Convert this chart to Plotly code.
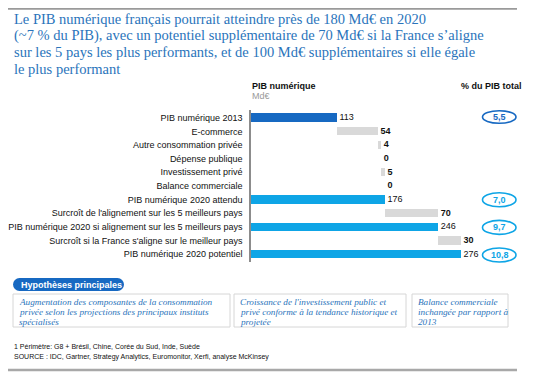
import plotly.graph_objects as go

# The page body has a default 8px margin; lay out in window pixels and offset.
OFF = 8
W, H = 543 - OFF, 392 - OFF

# ---------------- data ----------------
categories = [
    "PIB numérique 2013",
    "E-commerce",
    "Autre consommation privée",
    "Dépense publique",
    "Investissement privé",
    "Balance commerciale",
    "PIB numérique 2020 attendu",
    "Surcroît de l'alignement sur les 5 meilleurs pays",
    "PIB numérique 2020 si alignement sur les 5 meilleurs pays",
    "Surcroît si la France s'aligne sur le meilleur pays",
    "PIB numérique 2020 potentiel",
]
values = [113, 54, 4, 0, 5, 0, 176, 70, 246, 30, 276]
kinds = ["total", "delta", "delta", "delta", "delta", "delta",
         "total", "delta", "total", "delta", "total"]
pct_total = [5.5, None, None, None, None, None, 7.0, None, 9.7, None, 10.8]

title_lines = [
    "Le PIB numérique français pourrait atteindre près de 180 Md€ en 2020",
    "(~7 % du PIB), avec un potentiel supplémentaire de 70 Md€ si la France s’aligne",
    "sur les 5 pays les plus performants, et de 100 Md€ supplémentaires si elle égale",
    "le plus performant",
]
hypotheses = [
    ["Augmentation des composantes de la consommation",
     "privée selon les projections des principaux instituts",
     "spécialisés"],
    ["Croissance de l'investissement public et",
     "privé conforme à la tendance historique et",
     "projetée"],
    ["Balance commerciale",
     "inchangée par rapport à",
     "2013"],
]
footnotes = [
    "1 Périmètre: G8 + Brésil, Chine, Corée du Sud, Inde, Suède",
    "SOURCE : IDC, Gartner, Strategy Analytics, Euromonitor, Xerfi, analyse McKinsey",
]

# ---------------- styles ----------------
DARK = "#1769c2"
LIGHT = "#0ea5e6"
GREY = "#d9d9d9"
TITLE_C = "#2a74bb"
SANS = "Liberation Sans, Arial, sans-serif"
SERIF = "Liberation Serif, Georgia, serif"

def X(px):
    return (px - OFF) / W

def Y(py):
    return 1 - (py - OFF) / H

# waterfall bases
bases, running = [], 0
for v, k in zip(values, kinds):
    if k == "total":
        bases.append(0)
        running = v
    else:
        bases.append(running)
        running += v
ends = [b + v for b, v in zip(bases, values)]

colors = []
for i, k in enumerate(kinds):
    if k == "delta":
        colors.append(GREY)
    elif i == 0:
        colors.append(DARK)
    else:
        colors.append(LIGHT)

fig = go.Figure()
fig.add_trace(go.Bar(
    y=categories, x=values, base=bases, orientation="h",
    marker=dict(color=colors, line=dict(width=0)),
    width=0.62, hoverinfo="skip", showlegend=False,
))
labels = [("\u00a0<b>%d</b>" % v) if k == "delta" else ("\u00a0%d" % v)
          for v, k in zip(values, kinds)]
fig.add_trace(go.Scatter(
    y=categories, x=ends, mode="text", text=labels,
    textposition="middle right",
    textfont=dict(family=SANS, size=9, color="#111111"),
    hoverinfo="skip", showlegend=False, cliponaxis=False,
))

# geometry of plot rows (window pixels)
row_top, row_bot = 110.1, 261.9
x0_px, scale = 251.0, 0.761
fig.update_layout(
    width=W, height=H,
    margin=dict(l=0, r=0, t=0, b=0),
    paper_bgcolor="white", plot_bgcolor="white",
    bargap=0,
    xaxis=dict(domain=[X(x0_px), 1], range=[0, (543 - x0_px) / scale],
               visible=False, fixedrange=True),
    yaxis=dict(domain=[Y(row_bot), Y(row_top)], autorange="reversed",
               type="category", showline=True, linecolor="#8c8c8c",
               linewidth=1.5, showgrid=False, zeroline=False, ticks="",
               ticklabelstandoff=5,
               tickfont=dict(family=SANS, size=9, color="#111111"),
               fixedrange=True),
)

shapes, ann = [], []

# top and bottom separators
shapes.append(dict(type="line", xref="paper", yref="paper",
                   x0=X(OFF), x1=X(517), y0=Y(OFF + 0.8), y1=Y(OFF + 0.8),
                   line=dict(color="#9a9a9a", width=2)))
shapes.append(dict(type="line", xref="paper", yref="paper",
                   x0=X(OFF), x1=X(517), y0=Y(370), y1=Y(370),
                   line=dict(color="#a8a8a8", width=2.5)))

# title
for i, t in enumerate(title_lines):
    ann.append(dict(text=t, xref="paper", yref="paper", x=X(12), y=Y(19 + 16.6 * i),
                    xanchor="left", yanchor="middle", showarrow=False,
                    font=dict(family=SERIF, size=14.5, color=TITLE_C)))

# headers
ann.append(dict(text="<b>PIB numérique</b>", xref="paper", yref="paper",
                x=X(250), y=Y(86), xanchor="left", yanchor="middle", showarrow=False,
                font=dict(family=SANS, size=9, color="#111111")))
ann.append(dict(text="Md€", xref="paper", yref="paper",
                x=X(250), y=Y(96), xanchor="left", yanchor="middle", showarrow=False,
                font=dict(family=SANS, size=9, color="#999999")))
ann.append(dict(text="<b>% du PIB total</b>", xref="paper", yref="paper",
                x=X(459), y=Y(86), xanchor="left", yanchor="middle", showarrow=False,
                font=dict(family=SANS, size=9, color="#111111")))

# ellipses with % of total GDP
row_h = (row_bot - row_top) / len(categories)
for i, p in enumerate(pct_total):
    if p is None:
        continue
    c = DARK if i == 0 else LIGHT
    cy = row_top + row_h * (i + 0.5)
    hh = 6.3 if i == 0 else 7
    shapes.append(dict(type="circle", xref="paper", yref="paper",
                       x0=X(482.5), x1=X(516), y0=Y(cy + hh), y1=Y(cy - hh),
                       line=dict(color=c, width=1.6), fillcolor="white"))
    ann.append(dict(text="<b>%s</b>" % ("%.1f" % p).replace(".", ","),
                    xref="paper", yref="paper", x=X(499.5), y=Y(cy),
                    xanchor="center", yanchor="middle", showarrow=False,
                    font=dict(family=SANS, size=9, color=c)))

# Hypothèses principales pill
px0, px1, py0, py1 = 13, 124, 278, 291
r = (py1 - py0) / 2
shapes.append(dict(type="rect", xref="paper", yref="paper",
                   x0=X(px0 + r), x1=X(px1 - r), y0=Y(py1), y1=Y(py0),
                   fillcolor=DARK, line=dict(width=0)))
for cx in (px0 + r, px1 - r):
    shapes.append(dict(type="circle", xref="paper", yref="paper",
                       x0=X(cx - r), x1=X(cx + r), y0=Y(py1), y1=Y(py0),
                       fillcolor=DARK, line=dict(width=0)))
ann.append(dict(text="<b>Hypothèses principales</b>", xref="paper", yref="paper",
                x=X(19), y=Y(284.5), xanchor="left", yanchor="middle", showarrow=False,
                font=dict(family=SANS, size=9, color="white")))

# hypothesis boxes
boxes = [(13, 230), (234, 406), (412, 508)]
for (bx0, bx1), lines in zip(boxes, hypotheses):
    shapes.append(dict(type="rect", xref="paper", yref="paper",
                       x0=X(bx0), x1=X(bx1), y0=Y(327), y1=Y(294),
                       line=dict(color="#d6d6d6", width=1), fillcolor="rgba(0,0,0,0)"))
    for j, t in enumerate(lines):
        ann.append(dict(text="<i>%s</i>" % t, xref="paper", yref="paper",
                        x=X(bx0 + 4), y=Y(302 + 10 * j), xanchor="left", yanchor="middle",
                        showarrow=False,
                        font=dict(family=SERIF, size=9.2, color=TITLE_C)))

# footnotes
for j, t in enumerate(footnotes):
    ann.append(dict(text=t, xref="paper", yref="paper", x=X(12), y=Y(346 + 10.5 * j),
                    xanchor="left", yanchor="middle", showarrow=False,
                    font=dict(family=SANS, size=7, color="#111111")))

fig.update_layout(shapes=shapes, annotations=ann)
fig.write_html("out.html")
